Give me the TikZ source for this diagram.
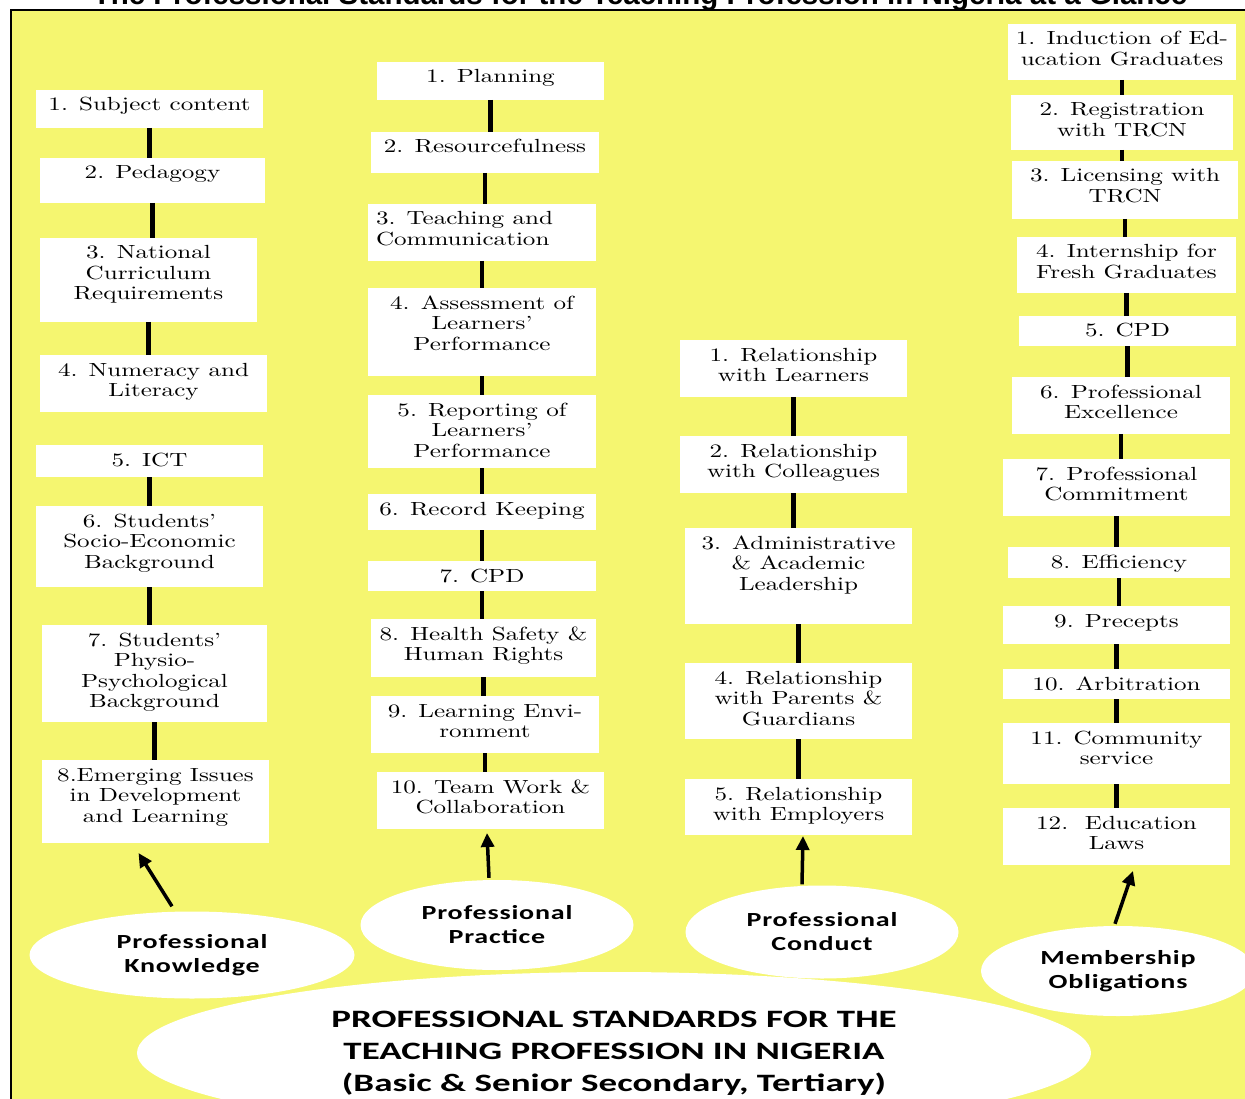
\documentclass[tikz,border=0pt]{standalone}
\usepackage{fontspec}
\usetikzlibrary{shapes.geometric,arrows.meta}
\newfontfamily\boxfont[FakeStretch=1.32]{lmroman10-regular.otf}
\newfontfamily\ellfont[FakeStretch=1.4,LetterSpace=4]{Carlito}
\newfontfamily\bigfont[FakeStretch=1.48]{Carlito}
\newfontfamily\titlefont{Liberation Sans}
\definecolor{panelyellow}{RGB}{245,246,112}
\tikzset{
  box/.style={fill=white,inner sep=0pt,outer sep=0pt},
  link/.style={line width=4.5pt},
  arr/.style={line width=3.5pt,-{Triangle[length=14pt,width=13pt]}},
  ell/.style={ellipse,fill=white,inner sep=0pt,align=center,
    font=\ellfont\bfseries\fontsize{20}{24}\selectfont},
}
\newcommand\bx[7][\centering]{%
  \pgfmathsetmacro\bw{#5-#3}%
  \pgfmathsetmacro\bh{#6-#4}%
  \node[box,anchor=north west] (#2) at (#3,#4)
    {\parbox[c][\bh pt][t]{\bw pt}{#1\boxfont\fontsize{19}{20.5}\selectfont\rule{0pt}{21pt}#7}};}
\begin{document}
\begin{tikzpicture}[x=1pt,y=-1pt]
\useasboundingbox (0,0) rectangle (1245,1099);
% panel
\fill[panelyellow] (11,10) rectangle (1265,1115);
\draw[line width=1.5pt] (11,1115) -- (11,10) -- (1265,10);
% title (cut off at the top, as in the reference)
\node[font=\titlefont\bfseries\fontsize{29.5}{30}\selectfont,anchor=base,inner sep=0pt] (title) at (640,5)
  {The Professional Standards for the Teaching Profession in Nigeria at a Glance};
% Column 1: Professional Knowledge
\bx{k1}{36}{90}{263}{128}{1. Subject content}
\bx{k2}{40}{158}{265}{203}{2. Pedagogy}
\bx{k3}{40}{238}{257}{322}{3. National\\Curriculum\\Requirements}
\bx{k4}{40}{355}{267}{412}{4. Numeracy and\\Literacy}
\bx{k5}{36}{445}{263}{477}{5. ICT}
\bx{k6}{36}{506}{263}{587}{6. Students’\\Socio-Economic\\Background}
\bx{k7}{42}{625}{267}{722}{7. Students’\\Physio-\\Psychological\\Background}
\bx{k8}{42}{760}{269}{843}{8.Emerging Issues\\in Development\\and Learning}
% Column 2: Professional Practice
\bx{p1}{377}{62}{604}{100}{1. Planning}
\bx{p2}{371}{132}{599}{173}{2. Resourcefulness}
\bx[\raggedright\leftskip=8pt]{p3}{368}{204}{596}{261}{3. Teaching and\\Communication}
\bx{p4}{368}{288}{596}{376}{4. Assessment of\\Learners’\\Performance}
\bx{p5}{368}{395}{596}{468}{5. Reporting of\\Learners’\\Performance}
\bx{p6}{368}{494}{596}{530}{6. Record Keeping}
\bx{p7}{368}{561}{596}{591}{7. CPD}
\bx{p8}{371}{619}{596}{677}{8. Health Safety \&\\Human Rights}
\bx{p9}{371}{696}{599}{753}{9. Learning Envi-\\ronment}
\bx{p10}{377}{772}{604}{829}{10. Team Work \&\\Collaboration}
% Column 3: Professional Conduct
\bx{c1}{680}{340}{907}{397}{1. Relationship\\with Learners}
\bx{c2}{680}{436}{907}{493}{2. Relationship\\with Colleagues}
\bx{c3}{685}{528}{912}{624}{3. Administrative\\\& Academic\\Leadership}
\bx{c4}{685}{663}{912}{739}{4. Relationship\\with Parents \&\\Guardians}
\bx{c5}{685}{779}{912}{835}{5. Relationship\\with Employers}
% Column 4: Membership Obligations
\bx{m1}{1008}{24}{1236}{80}{1. Induction of Ed-\\ucation Graduates}
\bx{m2}{1011}{95}{1233}{150}{2. Registration\\with TRCN}
\bx{m3}{1012}{161}{1238}{219}{3. Licensing with\\TRCN}
\bx{m4}{1017}{237}{1236}{293}{4. Internship for\\Fresh Graduates}
\bx{m5}{1019}{316}{1236}{346}{5. CPD}
\bx{m6}{1012}{377}{1230}{434}{6. Professional\\Excellence}
\bx{m7}{1003}{459}{1230}{516}{7. Professional\\Commitment}
\bx{m8}{1008}{547}{1230}{578}{8. Efficiency}
\bx{m9}{1003}{606}{1230}{644}{9. Precepts}
\bx{m10}{1003}{669}{1230}{699}{10. Arbitration}
\bx{m11}{1003}{723}{1230}{784}{11. Community\\service}
\bx{m12}{1003}{808}{1230}{865}{12.\ \ Education\\Laws}
% links
\foreach \a/\b in {k1/k2,k2/k3,k3/k4,k5/k6,k6/k7,k7/k8,
  p1/p2,p2/p3,p3/p4,p4/p5,p5/p6,p6/p7,p7/p8,p8/p9,p9/p10,
  c1/c2,c2/c3,c3/c4,c4/c5,
  m1/m2,m2/m3,m3/m4,m4/m5,m5/m6,m6/m7,m7/m8,m8/m9,m9/m10,m10/m11,m11/m12}
  \draw[link] (\a.south) -- (\a.south |- \b.north);
% ellipses
\node[ell,minimum width=325pt,minimum height=87pt] (pk) at (192,955) {Professional\\Knowledge};
\node[ell,minimum width=273pt,minimum height=90pt] (pp) at (497,925) {Professional\\Practice};
\node[ell,minimum width=273pt,minimum height=93pt] (pc) at (822,932) {Professional\\Conduct};
\node[ell,minimum width=274pt,minimum height=90pt] (mo) at (1118,971) {Membership\\Obligations};
\node[ell,minimum width=954pt,minimum height=162pt,font=\bigfont\bfseries\fontsize{25}{32}\selectfont] (ps) at (614,1053)
  {PROFESSIONAL STANDARDS FOR THE\\TEACHING PROFESSION IN NIGERIA\\(Basic \& Senior Secondary, Tertiary)};
% arrows
\draw[arr] ([xshift=-20pt,yshift=5pt]pk.north) -- ([xshift=-17pt,yshift=-10pt]k8.south);
\draw[arr] ([xshift=-8pt,yshift=2pt]pp.north) -- ([xshift=-3.5pt,yshift=-4pt]p10.south);
\draw[arr] ([xshift=-20pt,yshift=1pt]pc.north) -- ([xshift=4.5pt,yshift=-1pt]c5.south);
\draw[arr] ([xshift=-3pt,yshift=2pt]mo.north) -- ([xshift=16.5pt,yshift=-6pt]m12.south);
\end{tikzpicture}
\end{document}
